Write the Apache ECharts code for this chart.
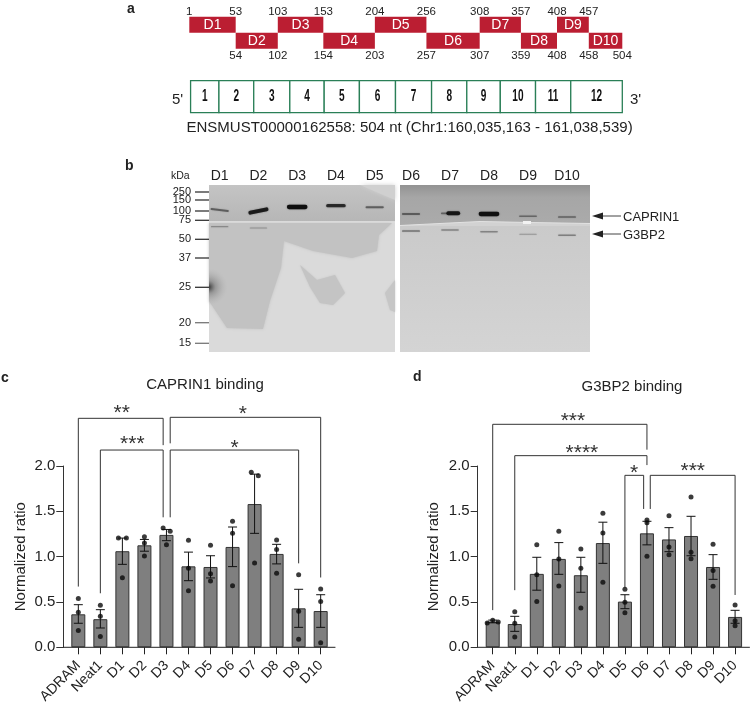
<!DOCTYPE html>
<html>
<head>
<meta charset="utf-8">
<title>CAPRIN1 and G3BP2 binding</title>
<script src="https://cdn.jsdelivr.net/npm/echarts@6/dist/echarts.min.js"></script>
<style>
html,body{margin:0;padding:0;background:#fff;}
#main{width:750px;height:703px;}
</style>
</head>
<body>
<div id="main"></div>
<script>
// panel c, d
var categories = ['ADRAM','Neat1','D1','D2','D3','D4','D5','D6','D7','D8','D9','D10'];
var tickValues = ['0.0','0.5','1.0','1.5','2.0'];

var capMean = [0.364,0.31,1.06,1.125,1.24,0.893,0.886,1.107,1.58,1.03,0.43,0.40];
var capErrHigh = [0.47,0.415,1.205,1.19,1.30,1.05,1.01,1.327,1.91,1.136,0.64,0.58];
var capErrLow = [0.265,0.213,0.915,1.06,1.176,0.735,0.765,0.89,1.257,0.92,0.22,0.22];
var capDots = [[0.537,0.386,0.184],[0.463,0.342,0.118],[1.205,1.205,0.768],[1.22,1.15,1.007],[1.316,1.28,1.132],[1.18,0.871,0.625],[1.125,0.81,0.732],[1.39,1.257,0.68],[1.93,1.893,0.93],[1.184,1.08,0.816],[0.80,0.397,0.088],[0.643,0.504,0.05]];
var capDotShift = [[0,0,0],[0,0,0],[-0.18,0.18,0],[0,0,0],[-0.15,0.17,0],[0,0,0],[0,0,0],[0,0,0],[-0.15,0.17,0],[0,0,0],[0,0,0],[0,0,0]];

var g3Mean = [0.283,0.257,0.81,0.975,0.795,1.15,0.504,1.257,1.19,1.228,0.886,0.335];
var g3ErrHigh = [0.30,0.342,0.993,1.155,0.993,1.38,0.58,1.39,1.32,1.445,1.022,0.408];
var g3ErrLow = [0.27,0.176,0.63,0.805,0.607,0.926,0.426,1.13,1.055,1.01,0.75,0.265];
var g3Dots = [[0.268,0.298,0.28],[0.393,0.265,0.114],[1.13,0.80,0.504],[1.28,0.975,0.676],[1.085,0.871,0.434],[1.48,1.26,0.717],[0.64,0.496,0.382],[1.404,1.375,1.004],[1.45,1.107,1.02],[1.658,1.048,0.978],[1.136,0.846,0.673],[0.467,0.294,0.239]];
var g3DotShift = [[-0.25,0,0.25],[0,0,0],[0,0,0],[0,0,0],[0,0,0],[0,0,0],[0,0,0],[0,0,0],[0,0,0],[0,0,0],[0,0,0],[0,0,0]];

// bracket: x1, leg end 1, top, x2, leg end 2
var capBrackets = [[0,0.67,2.526,3.85,2.23],[4.17,2.25,2.537,11,0.77],[1,0.596,2.176,3.85,1.434],[4.17,1.434,2.176,10,0.926]];
var capStars = ['**','*','***','*'];
var capStarX = [1.97,7.47,2.45,7.09];
var capStarY = [2.643,2.629,2.294,2.25];
var g3Brackets = [[0,0.41,2.46,7,2.18],[1,0.63,2.114,7,2.01],[6,0.66,1.897,6.85,1.526],[7.15,1.526,1.897,11,0.577]];
var g3Stars = ['***','****','*','***'];
var g3StarX = [3.64,4.05,6.42,9.08];
var g3StarY = [2.544,2.195,1.974,1.993];

// panel a
var domainNames = ['D1','D2','D3','D4','D5','D6','D7','D8','D9','D10'];
var domainEdges = [0,54,103,156,216,276,338,386,428,465,504];
var domainStart = [1,54,103,154,204,257,308,359,408,458];
var domainEnd = [53,102,153,203,256,307,357,408,457,504];
var exonEdges = [1.5,34.5,75,117,157,198,240,282,323,362,403,444,504];

// panel b
var laneLeft = ['D1','D2','D3','D4','D5'];
var laneRight = ['D6','D7','D8','D9','D10'];
var ladderKda = ['250','150','100','75','50','37','25','20','15'];
var ladderRun = [7,15,26,35.3,54.3,73,102.3,137.7,158.3];
var capRunLeft = [25,26,22,20.7,22.3];
var capTiltLeft = [1,-1.7,0,0,0];
var capDensityLeft = [0.3,0.85,1,0.7,0.3];
var g3RunLeft = [41.7,43,43,43,43];
var g3DensityLeft = [0.06,0.03,0,0,0];
var capRunRight = [29,28.3,29,31.3,32];
var capFadeRight = [1,0.25,1,1,1];
var capDensityRight = [0.25,0.9,1,0.18,0.22];
var g3RunRight = [46,45,46.7,49.3,50.3];
var g3DensityRight = [0.22,0.12,0.12,0.04,0.15];

var FONT = '"Liberation Sans", Arial, sans-serif';
var INK = '#222';

function dotData(dots, shift) {
    var out = [];
    dots.forEach(function (row, i) {
        row.forEach(function (v, j) {
            out.push([i + shift[i][j], v]);
        });
    });
    return out;
}

function errorItem(params, api) {
    var x = api.coord([api.value(0), 0])[0];
    var hi = api.coord([api.value(0), api.value(1)])[1];
    var lo = api.coord([api.value(0), api.value(2)])[1];
    var st = {stroke: '#111', lineWidth: 1, fill: null};
    return {type: 'group', children: [
        {type: 'line', shape: {x1: x, y1: hi, x2: x, y2: lo}, style: st},
        {type: 'line', shape: {x1: x - 4.5, y1: hi, x2: x + 4.5, y2: hi}, style: st},
        {type: 'line', shape: {x1: x - 4.5, y1: lo, x2: x + 4.5, y2: lo}, style: st}
    ]};
}

function bracketItem(params, api) {
    var x1 = api.value(0), y1 = api.value(1), top = api.value(2), x2 = api.value(3), y2 = api.value(4);
    return {type: 'polyline', shape: {points: [api.coord([x1, y1]), api.coord([x1, top]), api.coord([x2, top]), api.coord([x2, y2])]},
        style: {stroke: '#333', lineWidth: 1, fill: null}};
}

function baselineItem(params, api) {
    var a = api.coord([api.value(0), 0]), b = api.coord([api.value(1), 0]);
    return {type: 'line', shape: {x1: a[0], y1: a[1], x2: b[0], y2: b[1]}, style: {stroke: '#222', lineWidth: 1}};
}

function starSeries(xIdx, yIdx, stars, xs, ys) {
    return {
        type: 'custom', xAxisIndex: xIdx, yAxisIndex: yIdx, silent: true,
        data: stars.map(function (s, i) { return [xs[i], ys[i], s]; }),
        renderItem: function (params, api) {
            var p = api.coord([api.value(0), api.value(1)]);
            return {type: 'text', style: {text: stars[params.dataIndex], x: p[0], y: p[1] + 5, align: 'center', verticalAlign: 'middle',
                fontSize: 21, fontFamily: FONT, fill: '#333'}};
        }
    };
}

function barPanel(catAxis, valAxis, yIdx, mean, high, low, dots, shift, brackets, stars, starX, starY) {
    return [
        {type: 'bar', xAxisIndex: catAxis, yAxisIndex: yIdx, data: mean, barWidth: 14,
            itemStyle: {color: '#7f7f7f', borderColor: '#333', borderWidth: 1}},
        {type: 'custom', xAxisIndex: valAxis, yAxisIndex: yIdx, silent: true, z: 3,
            data: mean.map(function (m, i) { return [i, high[i], low[i]]; }), renderItem: errorItem},
        {type: 'scatter', xAxisIndex: valAxis, yAxisIndex: yIdx, symbolSize: 5, z: 4, clip: false,
            itemStyle: {color: '#0a0a0a'}, data: dotData(dots, shift)},
        {type: 'custom', xAxisIndex: valAxis, yAxisIndex: yIdx, silent: true,
            data: brackets, renderItem: bracketItem},
        {type: 'custom', xAxisIndex: valAxis, yAxisIndex: yIdx, silent: true, z: 3,
            data: [[-0.69, 11.67]], renderItem: baselineItem},
        starSeries(valAxis, yIdx, stars, starX, starY)
    ];
}

function categoryAxis(gridIndex) {
    return {type: 'category', gridIndex: gridIndex, data: categories,
        axisLine: {show: false},
        axisTick: {show: true, alignWithLabel: true, length: 7, lineStyle: {color: '#222'}},
        axisLabel: {rotate: 45, interval: 0, fontSize: 14, fontFamily: FONT, color: INK, margin: 16}};
}

function ratioAxis(gridIndex, gap) {
    return {type: 'value', gridIndex: gridIndex, min: 0, max: 2, interval: 0.5, offset: 4,
        name: 'Normalized ratio', nameLocation: 'middle', nameGap: gap,
        nameTextStyle: {fontSize: 15, fontFamily: FONT, color: INK},
        axisLine: {show: true, onZero: false, lineStyle: {color: '#333'}},
        axisTick: {show: true, length: 7, lineStyle: {color: '#333'}},
        axisLabel: {fontSize: 15, fontFamily: FONT, color: INK, margin: 8,
            formatter: function (v) { return tickValues[Math.round(v * 2)]; }},
        splitLine: {show: false}};
}

function hiddenValueAxis(gridIndex, min, max) {
    return {type: 'value', gridIndex: gridIndex, min: min, max: max, show: false, splitLine: {show: false}};
}

function laneAxis(gridIndex, lanes) {
    return {type: 'category', gridIndex: gridIndex, data: lanes, position: 'top',
        axisLine: {show: false}, axisTick: {show: false},
        axisLabel: {fontSize: 14, fontFamily: FONT, color: INK, margin: 2, interval: 0}};
}

function bandSeries(xIdx, yIdx, runs, density, tilt, fade) {
    return {type: 'custom', xAxisIndex: xIdx, yAxisIndex: yIdx, silent: true,
        data: runs.map(function (r, i) { return [i, r, density[i], tilt ? tilt[i] : 0, fade ? fade[i] : 1]; }),
        renderItem: function (params, api) {
            var p = api.coord([api.value(0), api.value(1)]);
            var d = api.value(2);
            var half = api.size([1, 0])[0] * 0.21;
            var t = api.value(3);
            var f = api.value(4);
            if (d <= 0) { return; }
            function seg(x1, y1, x2, y2, k) {
                return {type: 'line', shape: {x1: x1, y1: y1, x2: x2, y2: y2},
                    style: {stroke: 'rgba(15,15,15,' + (0.2 + 0.8 * k) + ')', lineWidth: 1 + 3.3 * k, lineCap: 'round',
                        shadowBlur: 1.5, shadowColor: 'rgba(30,30,30,0.6)'}};
            }
            // a lane can run darker towards its right end
            if (f < 1) {
                return {type: 'group', children: [
                    seg(p[0] - half, p[1], p[0] - half * 0.2, p[1], d * f),
                    seg(p[0] - half * 0.2, p[1], p[0] + half, p[1], d)
                ]};
            }
            return seg(p[0] - half, p[1] - t, p[0] + half, p[1] + t, d);
        }};
}

function ladderSeries(xIdx, yIdx) {
    return {type: 'custom', xAxisIndex: xIdx, yAxisIndex: yIdx, silent: true,
        data: ladderRun.map(function (r, i) { return [0, r]; }),
        renderItem: function (params, api) {
            var y = api.coord([0, api.value(1)])[1];
            return {type: 'group', children: [
                {type: 'line', shape: {x1: 195, y1: y, x2: 209, y2: y},
                    style: {stroke: params.dataIndex > 6 ? '#777' : '#333', lineWidth: 1.3}},
                {type: 'text', style: {text: ladderKda[params.dataIndex], x: 191, y: y, align: 'right', verticalAlign: 'middle',
                    fontSize: 11, fontFamily: FONT, fill: INK}}
            ]};
        }};
}

// panel a schematic on one shared 0..504 strip
function domainSeries() {
    return {type: 'custom', xAxisIndex: 6, yAxisIndex: 4, silent: true,
        data: domainNames.map(function (n, i) { return [domainEdges[i], domainEdges[i + 1], i % 2 ? 4 : 5]; }),
        renderItem: function (params, api) {
            var i = params.dataIndex;
            var row = api.value(2);
            var a = api.coord([api.value(0), row + 1]), b = api.coord([api.value(1), row]);
            var labelY = api.coord([0, row === 5 ? 6.33 : 3.53])[1];
            var st = {fontSize: 11.5, fontFamily: FONT, fill: INK, align: 'center', verticalAlign: 'middle'};
            return {type: 'group', children: [
                {type: 'rect', shape: {x: a[0], y: a[1], width: b[0] - a[0], height: b[1] - a[1]}, style: {fill: '#bb1e32'}},
                {type: 'text', style: {text: domainNames[i], x: (a[0] + b[0]) / 2, y: (a[1] + b[1]) / 2, align: 'center', verticalAlign: 'middle',
                    fontSize: 14, fontFamily: FONT, fill: '#fff'}},
                {type: 'text', style: echarts.util.extend({text: String(domainStart[i]), x: a[0], y: labelY}, st)},
                {type: 'text', style: echarts.util.extend({text: String(domainEnd[i]), x: b[0], y: labelY}, st)}
            ]};
        }};
}

function exonSeries() {
    return {type: 'custom', xAxisIndex: 6, yAxisIndex: 4, silent: true,
        data: exonEdges.slice(0, -1).map(function (e, i) { return [e, exonEdges[i + 1]]; }),
        renderItem: function (params, api) {
            var a = api.coord([api.value(0), 2]), b = api.coord([api.value(1), 0]);
            return {type: 'group', children: [
                {type: 'rect', shape: {x: a[0], y: a[1], width: b[0] - a[0], height: b[1] - a[1]},
                    style: {fill: '#fff', stroke: '#2a7f57', lineWidth: 1.3}},
                {type: 'text', x: (a[0] + b[0]) / 2, y: (a[1] + b[1]) / 2, scaleX: 0.72, scaleY: 1.12,
                    style: {text: String(params.dataIndex + 1), x: 0, y: 0, align: 'center', verticalAlign: 'middle',
                        fontSize: 14, fontWeight: 'bold', fontFamily: FONT, fill: '#111'}}
            ]};
        }};
}

function plainText(text, x, y, size, extra) {
    var st = {text: text, x: x, y: y, fontSize: size, fontFamily: FONT, fill: INK, align: 'left', verticalAlign: 'middle'};
    return {type: 'text', silent: true, style: echarts.util.extend(st, extra || {})};
}

function blob(points, color, blur, z) {
    return {type: 'polygon', silent: true, z: z || 1, shape: {points: points},
        style: {fill: color, shadowBlur: blur, shadowColor: color}};
}

function arrow(y) {
    return [
        {type: 'polygon', silent: true, shape: {points: [[592, y], [603, y - 3.5], [603, y + 3.5]]}, style: {fill: '#222'}},
        {type: 'line', silent: true, shape: {x1: 603, y1: y, x2: 621, y2: y}, style: {stroke: '#444', lineWidth: 1}}
    ];
}

// blot background is a photograph, only painted roughly here
var blotLeft = {type: 'group', silent: true, children: [
    {type: 'rect', shape: {x: 209, y: 185, width: 186, height: 37}, style: {fill: new echarts.graphic.LinearGradient(0, 0, 0, 1, [{offset: 0, color: '#c4c4c4'}, {offset: 1, color: '#b6b6b6'}])}},
    blob([[360, 185], [395, 185], [395, 200]], '#d0d0d0', 4, 1),
    {type: 'rect', shape: {x: 209, y: 222, width: 186, height: 130}, style: {fill: '#dadada'}},
    blob([[209, 223], [392, 223], [379, 235], [377, 251], [352, 258], [313, 251], [284, 241], [281, 268], [270, 301], [263, 329], [227, 328], [209, 301]], '#c2c2c2', 3, 1),
    blob([[300, 265], [317, 280], [335, 275], [345, 293], [333, 305], [320, 303], [310, 287]], '#c4c4c4', 2, 1),
    blob([[395, 280], [385, 293], [390, 310], [395, 312]], '#c6c6c6', 2, 1),
    {type: 'rect', z: 2, shape: {x: 209, y: 262, width: 30, height: 50},
        style: {fill: new echarts.graphic.RadialGradient(0, 0.5, 0.62, [{offset: 0, color: 'rgba(50,50,50,0.95)'}, {offset: 0.35, color: 'rgba(110,110,110,0.5)'}, {offset: 1, color: 'rgba(170,170,170,0)'}])}},
    {type: 'rect', z: 2, shape: {x: 209, y: 221.2, width: 186, height: 1}, style: {fill: '#e6e6e6'}}
]};
var blotRight = {type: 'group', silent: true, children: [
    {type: 'rect', shape: {x: 400, y: 185, width: 190, height: 167}, style: {fill: '#d2d2d2'}},
    {type: 'polygon', shape: {points: [[400, 185], [590, 185], [590, 223.5], [480, 221.5], [400, 225.5]]},
        style: {fill: new echarts.graphic.LinearGradient(0, 0, 0, 1, [{offset: 0, color: '#929292'}, {offset: 0.3, color: '#a6a6a6'}, {offset: 1, color: '#ababab'}])}},
    {type: 'rect', shape: {x: 400, y: 226, width: 190, height: 126}, style: {fill: new echarts.graphic.LinearGradient(0, 0, 0, 1, [{offset: 0, color: '#cacaca'}, {offset: 1, color: '#d4d4d4'}])}},
    {type: 'polyline', shape: {points: [[400, 225.5], [480, 221.5], [530, 222.5], [590, 223.5]]}, style: {stroke: '#e2e2e2', lineWidth: 1, fill: null}},
    {type: 'rect', shape: {x: 523, y: 221, width: 8, height: 3}, style: {fill: '#f2f2f2'}}
]};

var graphics = [blotLeft, blotRight,
    plainText('a', 127, 9, 14, {fontWeight: 'bold'}),
    plainText('b', 125, 166, 14, {fontWeight: 'bold'}),
    plainText('c', 1, 378, 14, {fontWeight: 'bold'}),
    plainText('d', 413, 377, 14, {fontWeight: 'bold'}),
    plainText("5'", 172, 100, 15),
    plainText("3'", 630, 100, 15),
    plainText('ENSMUST00000162558: 504 nt (Chr1:160,035,163 - 161,038,539)', 186.5, 128, 15),
    plainText('kDa', 171, 176, 10.5),
    plainText('CAPRIN1', 623, 217, 13),
    plainText('G3BP2', 623, 235, 13)
].concat(arrow(216), arrow(234));

var option = {
    animation: false,
    backgroundColor: '#fff',
    title: [
        {text: 'CAPRIN1 binding', left: 200, top: 372, textAlign: 'center', textStyle: {fontSize: 15, fontWeight: 'normal', fontFamily: FONT, color: INK}},
        {text: 'G3BP2 binding', left: 627, top: 374, textAlign: 'center', textStyle: {fontSize: 15, fontWeight: 'normal', fontFamily: FONT, color: INK}}
    ],
    grid: [
        {left: 67.3, width: 264.4, top: 466, height: 181.3, outerBoundsMode: 'none'},
        {left: 481.7, width: 264.4, top: 466, height: 181.3, outerBoundsMode: 'none'},
        {left: 200.3, width: 193.75, top: 185, height: 166.7, outerBoundsMode: 'none'},
        {left: 391.5, width: 195, top: 185, height: 166.7, outerBoundsMode: 'none'},
        {left: 189.3, width: 433, top: 16.7, height: 96, outerBoundsMode: 'none'}
    ],
    xAxis: [
        categoryAxis(0), hiddenValueAxis(0, -0.5, 11.5),
        categoryAxis(1), hiddenValueAxis(1, -0.5, 11.5),
        laneAxis(2, laneLeft), laneAxis(3, laneRight),
        hiddenValueAxis(4, 0, 504)
    ],
    yAxis: [
        ratioAxis(0, 35), ratioAxis(1, 36),
        {type: 'value', gridIndex: 2, min: 0, max: 166.7, inverse: true, show: false, splitLine: {show: false}},
        {type: 'value', gridIndex: 3, min: 0, max: 166.7, inverse: true, show: false, splitLine: {show: false}},
        hiddenValueAxis(4, 0, 6)
    ],
    graphic: {elements: graphics},
    series: [].concat(
        barPanel(0, 1, 0, capMean, capErrHigh, capErrLow, capDots, capDotShift, capBrackets, capStars, capStarX, capStarY),
        barPanel(2, 3, 1, g3Mean, g3ErrHigh, g3ErrLow, g3Dots, g3DotShift, g3Brackets, g3Stars, g3StarX, g3StarY),
        [
            ladderSeries(4, 2),
            bandSeries(4, 2, capRunLeft, capDensityLeft, capTiltLeft),
            bandSeries(4, 2, g3RunLeft, g3DensityLeft),
            bandSeries(5, 3, capRunRight, capDensityRight, null, capFadeRight),
            bandSeries(5, 3, g3RunRight, g3DensityRight),
            domainSeries(),
            exonSeries()
        ]
    )
};

var myChart = echarts.init(document.getElementById('main'));
myChart.setOption(option);
</script>
</body>
</html>
